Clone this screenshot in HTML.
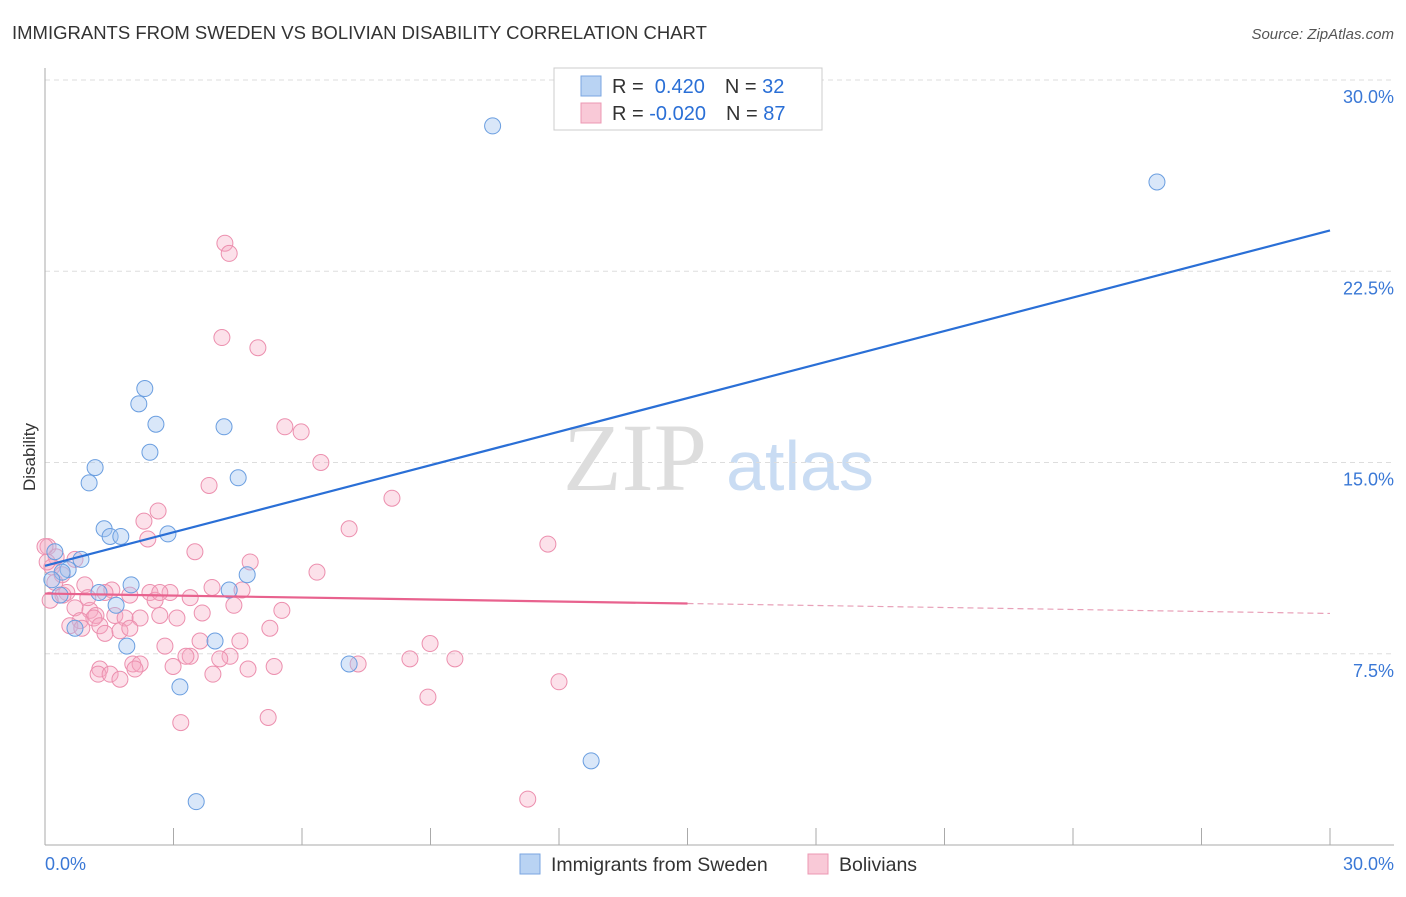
<!DOCTYPE html>
<html><head><meta charset="utf-8"><style>
body{margin:0;background:#fff;font-family:"Liberation Sans",sans-serif}
</style></head><body>
<svg id="chart" width="1406" height="892" xmlns="http://www.w3.org/2000/svg" font-family="Liberation Sans, sans-serif">
<text x="12" y="39" font-size="18.5" fill="#333">IMMIGRANTS FROM SWEDEN VS BOLIVIAN DISABILITY CORRELATION CHART</text>
<text x="1394" y="39" font-size="15" fill="#555" font-style="italic" text-anchor="end">Source: ZipAtlas.com</text>
<text x="35" y="457" font-size="17" fill="#333" transform="rotate(-90 35 457)" text-anchor="middle">Disability</text>
<g><text x="635" y="490" font-size="96" fill="#ddd" font-family="Liberation Serif, serif" text-anchor="middle">ZIP</text><text x="800" y="490" font-size="70" fill="#c9dcf3" text-anchor="middle">atlas</text></g>
<g id="grid"></g><g id="axes"></g><g id="pts"></g><g id="lines"></g>
<g>
<rect x="554" y="68" width="268" height="62" fill="#fff" stroke="#ccc"/>
<rect x="581" y="76" width="20" height="20" fill="#b9d3f3" stroke="#7aa6e0"/>
<rect x="581" y="103" width="20" height="20" fill="#f9c9d7" stroke="#ec98b3"/>
<text x="612" y="93" font-size="20" fill="#333">R = <tspan fill="#2a6fd6">&#160;0.420</tspan><tspan dx="20">N = </tspan><tspan fill="#2a6fd6">32</tspan></text>
<text x="612" y="120" font-size="20" fill="#333">R = <tspan fill="#2a6fd6">-0.020</tspan><tspan dx="20">N = </tspan><tspan fill="#2a6fd6">87</tspan></text>
</g>
<g>
<rect x="520" y="854" width="20" height="20" fill="#b9d3f3" stroke="#7aa6e0"/>
<text x="551" y="871" font-size="19.5" fill="#333">Immigrants from Sweden</text>
<rect x="808" y="854" width="20" height="20" fill="#f9c9d7" stroke="#ec98b3"/>
<text x="839" y="871" font-size="19.5" fill="#333">Bolivians</text>
</g>
</svg>
<script>
const yTicks=[7.5,15,22.5,30];
const yTickLabels=["7.5%","15.0%","22.5%","30.0%"];
const xTicks=[0,3,6,9,12,15,18,21,24,27,30];
const swedenX=[10.45,25.96,2.33,2.19,2.59,4.18,2.45,1.17,4.51,1.03,1.38,1.52,1.77,2.87,0.84,0.23,0.54,0.40,0.16,0.35,2.01,1.26,4.30,4.72,1.66,3.97,1.91,7.10,3.15,12.75,3.53,0.70];
const swedenY=[28.2,26.0,17.9,17.3,16.5,16.4,15.4,14.8,14.4,14.2,12.4,12.1,12.1,12.2,11.2,11.5,10.8,10.7,10.4,9.8,10.2,9.9,10.0,10.6,9.4,8.0,7.8,7.1,6.2,3.3,1.7,8.5];
const bolX=[4.20,4.30,4.13,4.97,5.98,5.60,6.44,3.83,8.10,2.64,2.31,7.10,2.40,11.74,3.50,4.79,6.35,0.07,0.26,0.16,0.40,0.70,0.51,0.93,1.56,1.98,2.45,2.57,2.92,3.39,3.90,4.60,4.41,5.53,3.67,0.70,1.05,1.19,1.63,1.87,2.22,2.68,3.08,1.14,0.82,0.58,1.28,1.40,0.86,1.75,5.25,2.80,4.55,4.32,3.39,3.29,8.99,9.57,8.52,7.31,5.35,1.28,2.05,2.22,2.99,4.08,1.24,1.52,1.75,2.10,3.92,4.74,12.00,8.94,3.17,5.21,11.27,0.42,0.00,0.23,0.12,1.40,1.98,2.68,3.62,0.05,1.00];
const bolY=[23.6,23.2,19.9,19.5,16.2,16.4,15.0,14.1,13.6,13.1,12.7,12.4,12.0,11.8,11.5,11.1,10.7,11.7,11.3,10.9,10.6,11.2,9.9,10.2,10.0,9.8,9.9,9.6,9.9,9.7,10.1,10.0,9.4,9.2,9.1,9.3,9.2,9.0,9.0,8.9,8.9,9.0,8.9,8.9,8.8,8.6,8.6,8.3,8.5,8.4,8.5,7.8,8.0,7.4,7.4,7.4,7.9,7.3,7.3,7.1,7.0,6.9,7.1,7.1,7.0,7.3,6.7,6.7,6.5,6.9,6.7,6.9,6.4,5.8,4.8,5.0,1.8,9.8,11.7,10.3,9.6,9.9,8.5,9.9,8.0,11.1,9.7];
const regSweden=[10.95,24.1];
const regBol=[9.86,9.47,9.08];
const X=v=>45+v/30*1285, Y=v=>845-v/30*765;
const NS="http://www.w3.org/2000/svg";
function mk(tag,attrs,parent){const e=document.createElementNS(NS,tag);for(const k in attrs)e.setAttribute(k,attrs[k]);document.getElementById(parent).appendChild(e);return e;}
yTicks.forEach((t,i)=>{
 const g=mk('line',{x1:45,x2:1394,y1:Y(t),y2:Y(t),stroke:'#ddd','stroke-dasharray':'5,4'},'grid');
 
 
 const l=mk('text',{x:1394,y:Y(t)+23,'font-size':18,fill:'#3a78d6','text-anchor':'end'},'grid');
 l.textContent=yTickLabels[i];
 
 
});
const ax=mk('line',{x1:45,x2:45,y1:68,y2:845,stroke:'#aaa'},'axes');


const bx=mk('line',{x1:45,x2:1394,y1:845,y2:845,stroke:'#aaa'},'axes');


xTicks.forEach(t=>{
 const k=mk('line',{x1:X(t),x2:X(t),y1:828,y2:845,stroke:'#aaa'},'axes');
 
 
});
const x0=mk('text',{x:45,y:870,'font-size':18,fill:'#3a78d6'},'axes');x0.textContent='0.0%';


const x1=mk('text',{x:1394,y:870,'font-size':18,fill:'#3a78d6','text-anchor':'end'},'axes');x1.textContent='30.0%';


bolX.forEach((v,i)=>{
 const c=mk('circle',{cx:X(v),cy:Y(bolY[i]),r:8,fill:'rgba(246,170,196,0.35)',stroke:'#ec8fae','stroke-width':1},'pts');
 
 
});
swedenX.forEach((v,i)=>{
 const c=mk('circle',{cx:X(v),cy:Y(swedenY[i]),r:8,fill:'rgba(160,196,240,0.4)',stroke:'#6a9ee0','stroke-width':1},'pts');
 
 
});
const bl=mk('line',{x1:X(0),y1:Y(regSweden[0]),x2:X(30),y2:Y(regSweden[1]),stroke:'#2a6fd6','stroke-width':2.2},'lines');


const pl=mk('line',{x1:X(0),y1:Y(regBol[0]),x2:X(15),y2:Y(regBol[1]),stroke:'#e8628e','stroke-width':2.2},'lines');


const pd=mk('line',{x1:X(15),y1:Y(regBol[1]),x2:X(30),y2:Y(regBol[2]),stroke:'#e8a0b8','stroke-width':1.2,'stroke-dasharray':'6,4'},'lines');


</script>
</body></html>
